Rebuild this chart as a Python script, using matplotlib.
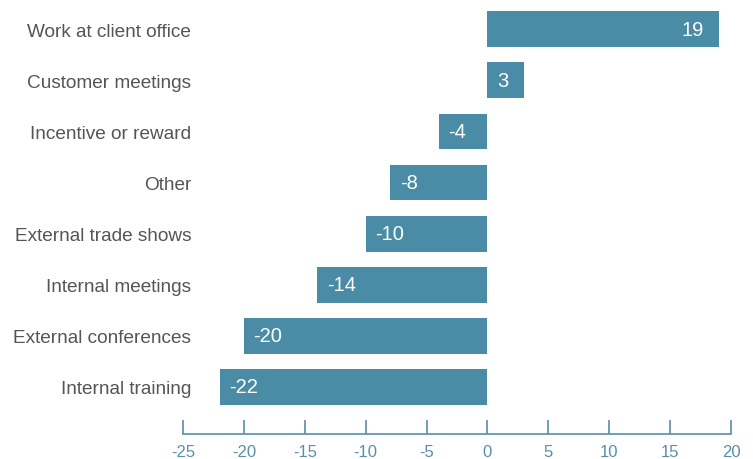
import matplotlib.pyplot as plt
import numpy as np

plt.rcParams['font.family'] = ['Liberation Sans', 'DejaVu Sans']

categories = ['Work at client office', 'Customer meetings', 'Incentive or reward',
              'Other', 'External trade shows', 'Internal meetings',
              'External conferences', 'Internal training']
values = [19, 3, -4, -8, -10, -14, -20, -22]
xticks = [-25, -20, -15, -10, -5, 0, 5, 10, 15, 20]

bar_color = '#4a8ca5'
axis_color = '#5a8fa8'
label_color = '#555555'

fig = plt.figure(figsize=(7.53, 4.6), dpi=100)
ax = fig.add_axes([183 / 753, 25 / 460, 548 / 753, 435 / 460])

y = np.arange(len(categories))
ax.barh(y, values, height=0.70, color=bar_color, zorder=2)

ax.set_xlim(-25, 20)
ax.set_ylim(7.92, -0.59)

ax.set_yticks(y)
ax.set_yticklabels(categories, fontsize=13.7, color=label_color)
ax.tick_params(axis='y', length=0, pad=-6)

ax.set_xticks(xticks)
ax.set_xticklabels([str(t) for t in xticks], fontsize=12, color=axis_color)
ax.tick_params(axis='x', direction='in', length=10, width=1.2, color=axis_color, pad=7)
ax.set_xticks([0], minor=True)
ax.tick_params(axis='x', which='minor', direction='in', length=14, width=1.2, color=axis_color)

for s in ['top', 'right', 'left']:
    ax.spines[s].set_visible(False)
ax.spines['bottom'].set_color(axis_color)
ax.spines['bottom'].set_linewidth(1.2)

# value labels inside the bars
for yi, v in zip(y, values):
    if v >= 0:
        ax.annotate(str(v), (v, yi), xytext=(-11, 0), textcoords='offset points',
                    ha='right', va='center', color='white', fontsize=14.5)
    else:
        ax.annotate(str(v), (v, yi), xytext=(7, 0), textcoords='offset points',
                    ha='left', va='center', color='white', fontsize=14.5)

fig.savefig('out.png', dpi=100)
